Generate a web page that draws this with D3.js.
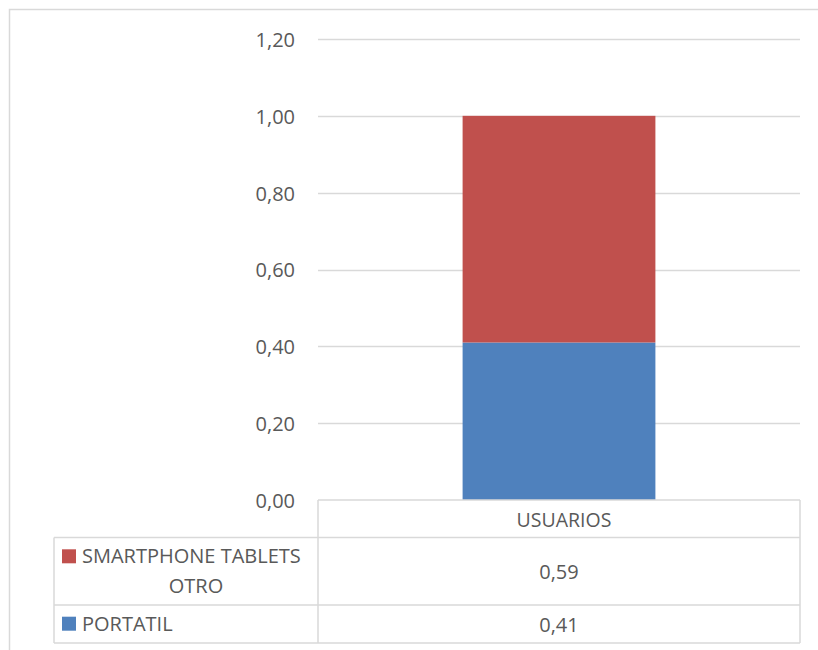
<!DOCTYPE html>
<html>
<head>
<meta charset="utf-8">
<script src="https://cdn.jsdelivr.net/npm/d3@7"></script>
<style>
  html, body { margin: 0; padding: 0; background: #fff; }
  svg { display: block; }
  text { font-family: "Open Sans", "Noto Sans", sans-serif; fill: #595959; }
</style>
</head>
<body>
<svg id="chart" width="818" height="650"></svg>
<script>
// ---- data ----
const categories = ["USUARIOS"];
const seriesNames = ["PORTATIL", "SMARTPHONE TABLETS OTRO"];
const legendLines = [["PORTATIL"], ["SMARTPHONE TABLETS", "OTRO"]];
const portatil = [0.41];
const smartphone = [0.59];
const seriesColors = ["#4f81bd", "#c0504d"];
const yTicks = [0, 0.2, 0.4, 0.6, 0.8, 1.0, 1.2];

// ---- layout ----
const svg = d3.select("#chart");
const plotLeft = 318, plotRight = 800, plotTop = 39, plotBottom = 500;
const tableLeft = 54;
const rowBounds = [500, 537.5, 605, 643]; // header, smartphone row, portatil row
const fmt = v => d3.format(".2f")(v).replace(".", ",");

// outer border
svg.append("rect")
  .attr("x", 9.5).attr("y", 9.5).attr("width", 830).attr("height", 660)
  .attr("fill", "none").attr("stroke", "#d9d9d9").attr("stroke-width", 1.5);

const y = d3.scaleLinear().domain([0, 1.2]).range([plotBottom, plotTop]);
const x = d3.scaleBand().domain(categories).range([plotLeft, plotRight])
  .paddingInner(0.6).paddingOuter(0.3);

// gridlines
svg.append("g").selectAll("line").data(yTicks.filter(d => d > 0)).join("line")
  .attr("x1", plotLeft).attr("x2", plotRight)
  .attr("y1", d => Math.round(y(d)) + 0.5).attr("y2", d => Math.round(y(d)) + 0.5)
  .attr("stroke", "#d9d9d9").attr("stroke-width", 1.5);

// y axis labels
const yAxis = d3.axisLeft(y).tickValues(yTicks).tickFormat(fmt).tickSize(0).tickPadding(0);
const ag = svg.append("g").attr("transform", `translate(295,0)`).call(yAxis);
ag.select(".domain").remove();
ag.selectAll("text")
  .attr("font-size", 20).attr("font-family", "'Open Sans', sans-serif")
  .attr("fill", "#595959").attr("dy", "0.37em");

// stacked bars
const rows = categories.map((c, i) => ({ cat: c, PORTATIL: portatil[i], "SMARTPHONE TABLETS OTRO": smartphone[i] }));
const stack = d3.stack().keys(seriesNames)(rows);
svg.append("g").selectAll("g").data(stack).join("g")
  .attr("fill", (d, i) => seriesColors[i])
  .selectAll("rect").data(d => d).join("rect")
  .attr("x", d => x(d.data.cat))
  .attr("width", x.bandwidth())
  .attr("y", d => y(d[1]))
  .attr("height", d => y(d[0]) - y(d[1]));

// data table
const tg = svg.append("g").attr("stroke", "#d9d9d9").attr("stroke-width", 1.5).attr("fill", "none");
tg.append("line").attr("x1", plotLeft).attr("x2", plotRight).attr("y1", rowBounds[0]).attr("y2", rowBounds[0]);
[1, 2, 3].forEach(k => {
  tg.append("line").attr("x1", tableLeft).attr("x2", plotRight).attr("y1", rowBounds[k]).attr("y2", rowBounds[k]);
});
tg.append("line").attr("x1", plotLeft).attr("x2", plotLeft).attr("y1", rowBounds[0]).attr("y2", rowBounds[3]);
tg.append("line").attr("x1", plotRight).attr("x2", plotRight).attr("y1", rowBounds[0]).attr("y2", rowBounds[3]);
tg.append("line").attr("x1", tableLeft).attr("x2", tableLeft).attr("y1", rowBounds[1]).attr("y2", rowBounds[3]);

const xc = x(categories[0]) + x.bandwidth() / 2;
// header
svg.append("text").attr("x", xc + 5).attr("y", 527).attr("text-anchor", "middle")
  .attr("font-size", 19.5).text(categories[0]);

// rows: top row is the last series (stack order reversed)
const tableRows = [
  { lines: legendLines[1], color: seriesColors[1], value: smartphone[0], baselines: [563.3, 592.7], valueBase: 579 },
  { lines: legendLines[0], color: seriesColors[0], value: portatil[0], baselines: [630.7], valueBase: 632 }
];
tableRows.forEach(r => {
  const b0 = r.baselines[0];
  svg.append("rect").attr("x", 62).attr("y", b0 - 14).attr("width", 14).attr("height", 14).attr("fill", r.color);
  r.lines.forEach((ln, j) => {
    if (j === 0) {
      svg.append("text").attr("x", 82).attr("y", r.baselines[j]).attr("font-size", 20).text(ln);
    } else {
      svg.append("text").attr("x", 196).attr("y", r.baselines[j]).attr("text-anchor", "middle").attr("font-size", 20).text(ln);
    }
  });
  svg.append("text").attr("x", xc).attr("y", r.valueBase).attr("text-anchor", "middle")
    .attr("font-size", 20).text(fmt(r.value));
});
</script>
</body>
</html>
